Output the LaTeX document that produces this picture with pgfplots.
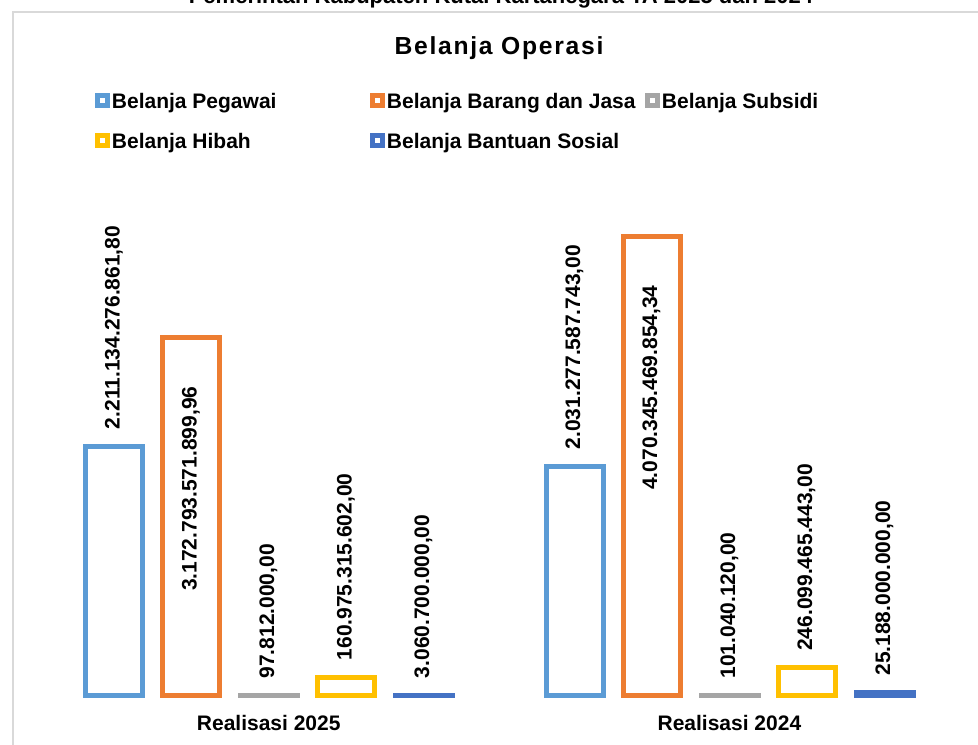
\documentclass[border=0pt]{standalone}
\usepackage{pgfplots}
\pgfplotsset{compat=1.18}
\usepackage{fontspec}
\setmainfont{Liberation Sans}
\newlength\px \setlength\px{0.75pt}
\definecolor{cPeg}{HTML}{5B9BD5}
\definecolor{cBar}{HTML}{ED7D31}
\definecolor{cSub}{HTML}{A5A5A5}
\definecolor{cHib}{HTML}{FFC000}
\definecolor{cBan}{HTML}{4472C4}
\newcommand\lbl{\bfseries\fontsize{15.75}{18}\selectfont}
\newcommand\lgd[1]{\hspace*{2\px}\makebox[258\px][l]{#1}}
\pgfplotsset{
  lgsq/.style={legend image code/.code={\draw[#1, line width=5\px, fill=white] (0pt,-2.5\px) rectangle (10\px,7.5\px);}},
  barsty/.style={ybar, bar width=57\px, bar shift=0pt, draw=#1, fill=white, line width=5\px, lgsq=#1,
    nodes near coords, point meta=explicit symbolic},
  lblout/.style={every node near coord/.append style={font=\lbl, text=black, inner sep=0pt, rotate=90, anchor=west, outer xsep=17\px}},
  lblin/.style={every node near coord/.append style={font=\lbl, text=black, inner sep=0pt, rotate=90, anchor=east, outer xsep=49\px}},
}
\begin{document}
\begin{tikzpicture}
\useasboundingbox (0,0) rectangle (978\px,744\px);
\draw[line width=1.5\px, color=black!15] (13\px,-20\px) -- (13\px,732\px) -- (1000\px,732\px);
\node[font=\bfseries\fontsize{16.5}{20}\selectfont, anchor=base] at (501\px,740\px) {Pemerintah Kabupaten Kutai Kartanegara TA 2025 dan 2024};
\node[font=\bfseries\fontsize{18.5}{22}\selectfont, anchor=base] at (499\px,689\px) {\addfontfeature{LetterSpace=7}Belanja Operasi};
\begin{axis}[
  at={(0,0)}, anchor=south west, width=978\px, height=744\px, scale only axis,
  xmin=0, xmax=978, ymin=-4.2996e11, ymax=6.16578e12, clip=false,
  axis line style={draw=none}, major tick length=0pt, ytick=\empty,
  xtick={268.75,729.4}, xticklabels={Realisasi 2025,Realisasi 2024},
  xticklabel style={anchor=base, yshift=13.5\px, font=\lbl, inner sep=0pt},
  legend columns=3, legend cell align=left,
  legend style={at={(0.0971,0.875)}, anchor=north west, draw=none, fill=none,
    inner sep=0pt, outer sep=0pt, row sep=20\px, column sep=0pt,
    nodes={inner sep=0pt, text height=15\px, text depth=5\px, font=\lbl}},
]
\addplot[barsty=cPeg, lblout] coordinates {(114,2211134276861.80) [{2.211.134.276.861,80}] (574.5,2031277587743.00) [{2.031.277.587.743,00}]};
\addlegendentry{\lgd{Belanja Pegawai}}
\addplot[barsty=cBar, lblin] coordinates {(191,3172793571899.96) [{3.172.793.571.899,96}] (651.5,4070345469854.34) [{4.070.345.469.854,34}]};
\addlegendentry{\lgd{Belanja Barang dan Jasa}}
\addplot[barsty=cSub, lblout] coordinates {(268.5,97812000.00) [{97.812.000,00}] (729.5,101040120.00) [{101.040.120,00}]};
\addlegendentry{\lgd{Belanja Subsidi}}
\addplot[barsty=cHib, lblout] coordinates {(346,160975315602.00) [{160.975.315.602,00}] (806.5,246099465443.00) [{246.099.465.443,00}]};
\addlegendentry{\lgd{Belanja Hibah}}
\addplot[barsty=cBan, lblout] coordinates {(423.5,3060700000.00) [{3.060.700.000,00}] (884.5,25188000000.00) [{25.188.000.000,00}]};
\addlegendentry{\lgd{Belanja Bantuan Sosial}}
\end{axis}
\end{tikzpicture}
\end{document}
